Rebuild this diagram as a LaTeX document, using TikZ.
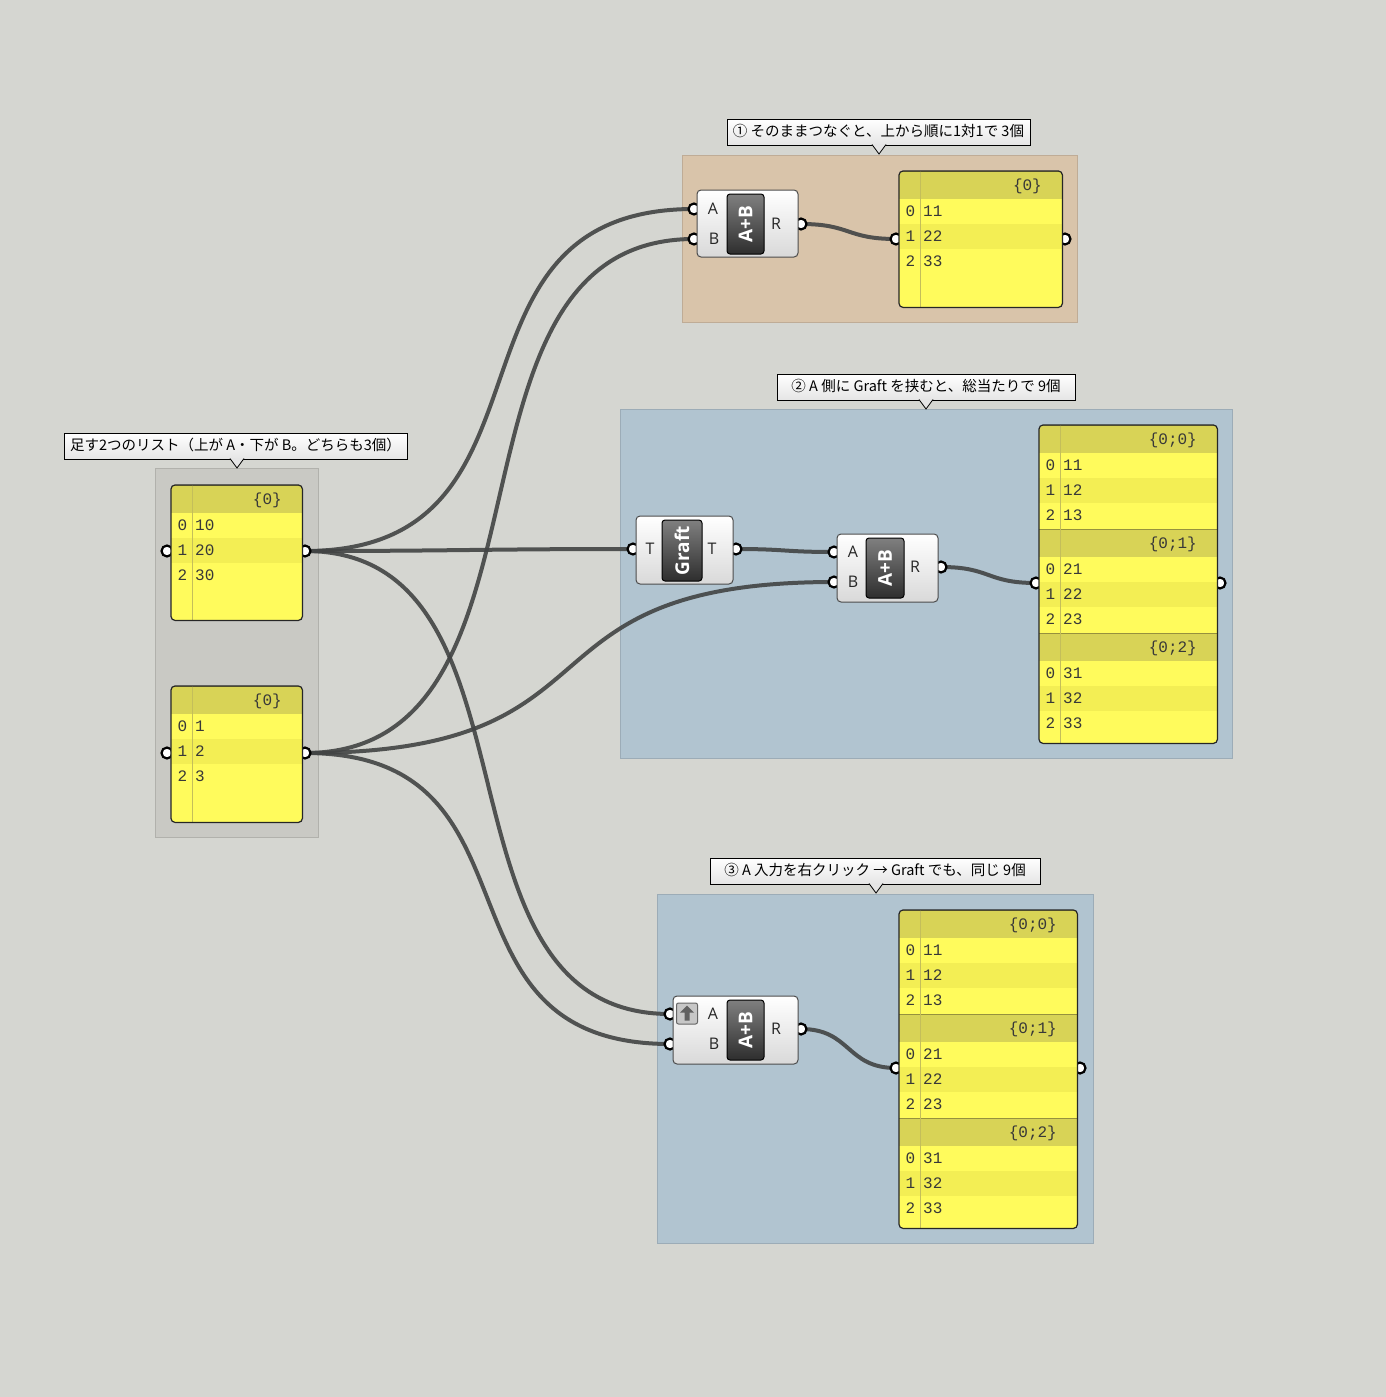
\documentclass[tikz,border=0pt]{standalone}
\usepackage{fontspec}
\setmainfont{Open Sans}
\newfontfamily\jpfont{Noto Sans CJK JP}
\newfontfamily\cellfont{Liberation Mono}
\usepackage{tikz}
\usetikzlibrary{calc}

\definecolor{canvas}{RGB}{213,214,209}
\definecolor{grpgrey}{RGB}{201,201,196}
\definecolor{grpbeige}{RGB}{217,196,170}
\definecolor{grpblue}{RGB}{177,196,208}
\definecolor{wirecol}{RGB}{66,68,68}
\definecolor{pnlyellow}{RGB}{255,251,92}
\definecolor{pnlstripe}{RGB}{243,238,84}
\definecolor{pnlhead}{RGB}{216,211,86}
\definecolor{pnlline}{RGB}{196,190,90}
\definecolor{pnlsep}{RGB}{150,145,62}

\pgfdeclarelayer{bg}
\pgfdeclarelayer{wires}
\pgfdeclarelayer{knobs}
\pgfsetlayers{bg,wires,knobs,main}

% one branch of a panel: name, x, y, width, path, three values
\newcommand{\ghbranch}[8]{%
  \begin{scope}[shift={(#2,#3)}]
    \fill[pnlhead] (0,0) rectangle (#4,28);
    \fill[pnlstripe] (0,52.5) rectangle (#4,77.5);
    \draw[pnlsep, line width=1] (0,0) -- (#4,0);
    \node[celltext, anchor=east] (#1-hdr) at (#4-20,14) {#5};
    \foreach \i/\v in {0/#6,1/#7,2/#8}{
      \node[celltext] (#1-i\i) at (11.5,40+25*\i) {\i};
      \node[celltext, anchor=west] (#1-v\i) at (24,40+25*\i) {\v};
    }
  \end{scope}}

% panel: name, x, y, width, height, branches
\newcommand{\ghpanel}[6]{%
  \node[panelbox, fill=pnlyellow, minimum width=#4, minimum height=#5] (#1) at (#2,#3) {};
  \begin{scope}
    \clip[rounded corners=4] (#1.north west) rectangle (#1.south east);
    #6
    \draw[pnlline, line width=0.8] ($(#1.north west)+(21,0)$) -- ($(#1.south west)+(21,0)$);
  \end{scope}
  \draw[panelframe] (#1.north west) rectangle (#1.south east);}

% balloon pointer: x, y of balloon bottom
\newcommand{\ghpointer}[2]{%
  \filldraw[fill=black!10, draw=black, line width=0.8] (#1-7,#2-0.5) -- (#1,#2+9) -- (#1+7,#2-0.5);}

\begin{document}
\begin{tikzpicture}[x=1pt,y=-1pt,
  ghgroup/.style={draw=#1!88!black, fill=#1, line width=1},
  balloon/.style={draw=black, line width=0.8, top color=white, bottom color=black!10,
    font=\jpfont\fontsize{14.5}{16}\selectfont, inner xsep=6, inner ysep=0,
    minimum height=26, text height=11, text depth=3},
  wire/.style={draw=wirecol, line width=4, opacity=0.9},
  knob/.style={circle, draw=black, fill=white, line width=2.2, minimum size=11, inner sep=0},
  compbody/.style={draw=black!70, line width=1, rounded corners=4, top color=white,
    bottom color=black!15, inner sep=0},
  compblock/.style={draw=black, line width=1, rounded corners=3, top color=black!50,
    bottom color=black!82, inner sep=0},
  blocktext/.style={rotate=90, text=white, font=\bfseries\fontsize{19}{20}\selectfont, inner sep=0},
  port/.style={font=\fontsize{16}{17}\selectfont, text=black!85, inner sep=0, text height=11.5, text depth=0},
  panelbox/.style={rounded corners=4, inner sep=0, anchor=north west},
  panelframe/.style={draw=black!85, line width=1.2, rounded corners=4},
  celltext/.style={font=\cellfont\fontsize{16}{16}\selectfont, inner sep=0, text=black!78,
    text height=10, text depth=0},
]
\useasboundingbox (0,0) rectangle (1386,1397);

\begin{pgfonlayer}{bg}
  \fill[canvas] (0,0) rectangle (1386,1397);
  \draw[ghgroup=grpgrey] (155,468) rectangle (318,837);
  \draw[ghgroup=grpbeige] (682,155) rectangle (1077,322);
  \draw[ghgroup=grpblue] (620,409) rectangle (1232,758);
  \draw[ghgroup=grpblue] (657,894) rectangle (1093,1243);
\end{pgfonlayer}

% group labels
\node[balloon, minimum width=341] (lbl0) at (235.5,446) {足す2つのリスト（上が A・下が B。どちらも3個）};
\ghpointer{237}{459}
\node[balloon, minimum width=303] (lbl1) at (878.5,132) {① そのままつなぐと、上から順に1対1で 3個};
\ghpointer{879}{145}
\node[balloon, minimum width=298] (lbl2) at (926,387) {② A 側に Graft を挟むと、総当たりで 9個};
\ghpointer{926}{400}
\node[balloon, minimum width=330] (lbl3) at (875,871) {③ A 入力を右クリック → Graft でも、同じ 9個};
\ghpointer{876}{884}

% input lists
\ghpanel{pA}{171}{485}{131}{135}{\ghbranch{pA0}{171}{485}{131}{\{0\}}{10}{20}{30}}
\ghpanel{pB}{171}{686}{131}{136}{\ghbranch{pB0}{171}{686}{131}{\{0\}}{1}{2}{3}}

% addition, plain
\node[compbody, minimum width=101, minimum height=67] (add1) at (747.5,223.5) {};
\node[compblock, minimum width=37, minimum height=60] (add1-blk) at (745.5,224) {};
\node[blocktext] (add1-op) at (add1-blk) {A+B};
\node[port] (add1-pa) at (713,209) {A};
\node[port] (add1-pb) at (714,239) {B};
\node[port] (add1-pr) at (776,224) {R};
\ghpanel{p1}{899}{171}{163}{136}{\ghbranch{p1a}{899}{171}{163}{\{0\}}{11}{22}{33}}

% graft, then addition
\node[compbody, minimum width=97, minimum height=68] (graft) at (684.5,550) {};
\node[compblock, minimum width=40, minimum height=61] (graft-blk) at (682,550.5) {};
\node[blocktext] (graft-op) at (graft-blk) {Graft};
\node[port] (graft-pt) at (650,549) {T};
\node[port] (graft-po) at (712,549) {T};
\node[compbody, minimum width=101, minimum height=68] (add2) at (887.5,568) {};
\node[compblock, minimum width=38, minimum height=60] (add2-blk) at (885,568) {};
\node[blocktext] (add2-op) at (add2-blk) {A+B};
\node[port] (add2-pa) at (853,552) {A};
\node[port] (add2-pb) at (853,582) {B};
\node[port] (add2-pr) at (915,567) {R};
\ghpanel{p2}{1039}{425}{178}{318}{%
  \ghbranch{p2a}{1039}{425}{178}{\{0;0\}}{11}{12}{13}
  \ghbranch{p2b}{1039}{529}{178}{\{0;1\}}{21}{22}{23}
  \ghbranch{p2c}{1039}{633}{178}{\{0;2\}}{31}{32}{33}}

% addition with grafted input
\node[compbody, minimum width=125, minimum height=68] (add3) at (735.5,1030) {};
\node[compblock, minimum width=37, minimum height=60] (add3-blk) at (745.5,1030) {};
\node[blocktext] (add3-op) at (add3-blk) {A+B};
\node[draw=black!60, line width=1, fill=black!22, rounded corners=2, minimum size=21, inner sep=0] (add3-flag) at (687,1013.5) {};
\fill[black!62] ($(add3-flag)+(0,-8)$) -- ($(add3-flag)+(7,-1)$) -- ($(add3-flag)+(2.5,-1)$)
  -- ($(add3-flag)+(2.5,7)$) -- ($(add3-flag)+(-2.5,7)$) -- ($(add3-flag)+(-2.5,-1)$)
  -- ($(add3-flag)+(-7,-1)$) -- cycle;
\node[port] (add3-pa) at (713,1014) {A};
\node[port] (add3-pb) at (714,1044) {B};
\node[port] (add3-pr) at (776,1029) {R};
\ghpanel{p3}{899}{910}{178}{318}{%
  \ghbranch{p3a}{899}{910}{178}{\{0;0\}}{11}{12}{13}
  \ghbranch{p3b}{899}{1014}{178}{\{0;1\}}{21}{22}{23}
  \ghbranch{p3c}{899}{1118}{178}{\{0;2\}}{31}{32}{33}}

% knobs
\begin{pgfonlayer}{knobs}
  \node[knob] (pA-in) at (167,551) {};
  \node[knob] (pA-out) at (305,551) {};
  \node[knob] (pB-in) at (167,753) {};
  \node[knob] (pB-out) at (305,753) {};
  \node[knob] (add1-a) at (694,209) {};
  \node[knob] (add1-b) at (694,239) {};
  \node[knob] (add1-r) at (801,224) {};
  \node[knob] (p1-in) at (896,239) {};
  \node[knob] (p1-out) at (1065,239) {};
  \node[knob] (graft-t) at (633,549) {};
  \node[knob] (graft-o) at (736,549) {};
  \node[knob] (add2-a) at (834,552) {};
  \node[knob] (add2-b) at (834,582) {};
  \node[knob] (add2-r) at (941,567) {};
  \node[knob] (p2-in) at (1036,583) {};
  \node[knob] (p2-out) at (1220,583) {};
  \node[knob] (add3-a) at (670,1014) {};
  \node[knob] (add3-b) at (670,1044) {};
  \node[knob] (add3-r) at (801,1029) {};
  \node[knob] (p3-in) at (896,1068) {};
  \node[knob] (p3-out) at (1080,1068) {};
\end{pgfonlayer}

% wires
\begin{pgfonlayer}{wires}
  \draw[wire] (pA-out.center) .. controls +(270,0) and +(-270,0) .. (add1-a.center);
  \draw[wire] (pB-out.center) .. controls +(270,0) and +(-270,0) .. (add1-b.center);
  \draw[wire] (pA-out.center) .. controls +(150,0) and +(-150,0) .. (graft-t.center);
  \draw[wire] (pB-out.center) .. controls +(330,0) and +(-330,0) .. (add2-b.center);
  \draw[wire] (pA-out.center) .. controls +(250,0) and +(-250,0) .. (add3-a.center);
  \draw[wire] (pB-out.center) .. controls +(250,0) and +(-250,0) .. (add3-b.center);
  \draw[wire] (add1-r.center) .. controls +(50,0) and +(-50,0) .. (p1-in.center);
  \draw[wire] (graft-o.center) .. controls +(50,0) and +(-50,0) .. (add2-a.center);
  \draw[wire] (add2-r.center) .. controls +(50,0) and +(-50,0) .. (p2-in.center);
  \draw[wire] (add3-r.center) .. controls +(50,0) and +(-50,0) .. (p3-in.center);
\end{pgfonlayer}
\end{tikzpicture}
\end{document}
